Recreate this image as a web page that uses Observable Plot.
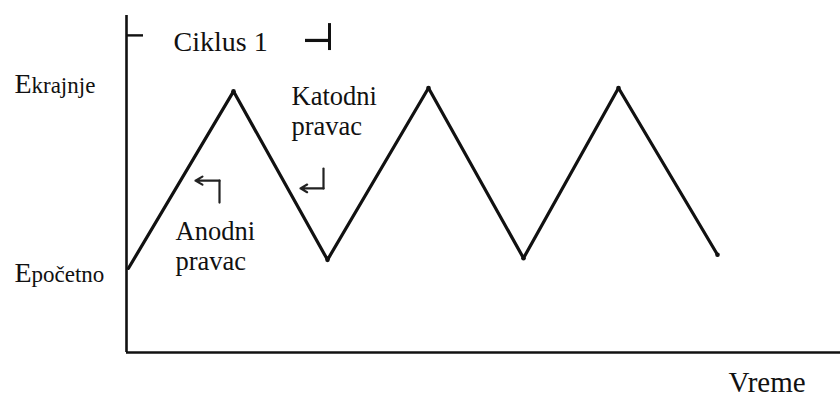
<!DOCTYPE html>
<html><head><meta charset="utf-8">
<script src="https://cdn.jsdelivr.net/npm/d3@7"></script>
<script src="https://cdn.jsdelivr.net/npm/@observablehq/plot@0.6"></script>
<style>body{margin:0;background:#fff} svg text{font-family:"Liberation Serif",serif}</style>
</head><body>
<script>
// Triangular potential sweep (cyclic voltammetry)
const time = [0.02, 1.07, 2.01, 3.02, 3.97, 4.92, 5.91];
const potential = [2.5, 7.75, 2.75, 7.85, 2.8, 7.85, 2.9];

// y "tick" labels (E + subscript word), placed at their baselines
const yLabelWords = ["krajnje", "početno"];
const yLabelE = [7.69, 2.08];

// cycle bracket
const cycleStart = 0;
const cycleEnd = 2.03;
const cycleLabel = "Ciklus 1";

// direction annotations
const anodText = "Anodni\npravac";
const katodText = "Katodni\npravac";
const anodArrow = {corner: [0.93, 5.10], tail: [0.93, 4.45], tip: [0.69, 5.10]};
const katodArrow = {corner: [1.97, 4.87], tail: [1.97, 5.46], tip: [1.74, 4.87]};

const xLabel = "Vreme";

const sweep = time.map((t, i) => ({t, E: potential[i]}));
const yLabels = yLabelWords.map((w, i) => ({w, E: yLabelE[i]}));

const ink = "#111";
const serif = "Liberation Serif";
const chart = Plot.plot({
  width: 840,
  height: 396,
  marginLeft: 126,
  marginRight: 0,
  marginTop: 15,
  marginBottom: 44,
  x: {domain: [0, 7.14], axis: null},
  y: {domain: [0, 10], axis: null},
  style: {fontFamily: "'Liberation Serif', serif", background: "#fff", overflow: "visible"},
  marks: [
    Plot.ruleX([0], {y1: 0, y2: 10, stroke: ink, strokeWidth: 2.6}),
    Plot.ruleY([0], {x1: 0, x2: 7.14, stroke: ink, strokeWidth: 2.6}),
    Plot.line(sweep, {x: "t", y: "E", stroke: ink, strokeWidth: 3.2, strokeLinejoin: "round", strokeLinecap: "round"}),
    Plot.dot(sweep.slice(1), {x: "t", y: "E", r: 2.3, fill: ink}),
    // y labels
    Plot.text(yLabels, {x: 0, y: "E", text: () => "E", dx: -112, textAnchor: "start", lineAnchor: "bottom", fontSize: 28, fontFamily: serif, fill: ink}),
    Plot.text(yLabels, {x: 0, y: "E", text: "w", dx: -95, textAnchor: "start", lineAnchor: "bottom", fontSize: 23, fontFamily: serif, fill: ink}),
    // cycle bracket
    Plot.ruleY([9.41], {x1: cycleStart, x2: cycleStart + 0.17, stroke: ink, strokeWidth: 2.4}),
    Plot.ruleY([9.26], {x1: cycleEnd - 0.24, x2: cycleEnd, stroke: ink, strokeWidth: 3.2}),
    Plot.ruleX([cycleEnd], {y1: 8.96, y2: 9.76, stroke: ink, strokeWidth: 3}),
    Plot.text([cycleLabel], {x: 0.47, y: 8.96, text: d => d, textAnchor: "start", lineAnchor: "bottom", fontSize: 28, fontFamily: serif, fill: ink}),
    // annotations
    Plot.text([anodText], {x: 0.49, y: 3.94, text: d => d, textAnchor: "start", lineAnchor: "top", fontSize: 26.5, lineHeight: 1.1, fontFamily: serif, fill: ink}),
    Plot.text([katodText], {x: 1.65, y: 7.98, text: d => d, textAnchor: "start", lineAnchor: "top", fontSize: 26.5, lineHeight: 1.13, fontFamily: serif, fill: ink}),
    Plot.line([anodArrow.tail, anodArrow.corner], {x: d => d[0], y: d => d[1], stroke: "#222", strokeWidth: 2.2}),
    Plot.arrow([anodArrow], {x1: d => d.corner[0], y1: d => d.corner[1], x2: d => d.tip[0], y2: d => d.tip[1], stroke: "#222", strokeWidth: 2.2, headLength: 10}),
    Plot.line([katodArrow.tail, katodArrow.corner], {x: d => d[0], y: d => d[1], stroke: "#222", strokeWidth: 2.2}),
    Plot.arrow([katodArrow], {x1: d => d.corner[0], y1: d => d.corner[1], x2: d => d.tip[0], y2: d => d.tip[1], stroke: "#222", strokeWidth: 2.2, headLength: 10}),
    // x label
    Plot.text([xLabel], {x: 6.02, y: -1.16, text: d => d, textAnchor: "start", lineAnchor: "bottom", fontSize: 29, fontFamily: serif, fill: ink})
  ]
});
document.body.appendChild(chart);
</script>
</body></html>
